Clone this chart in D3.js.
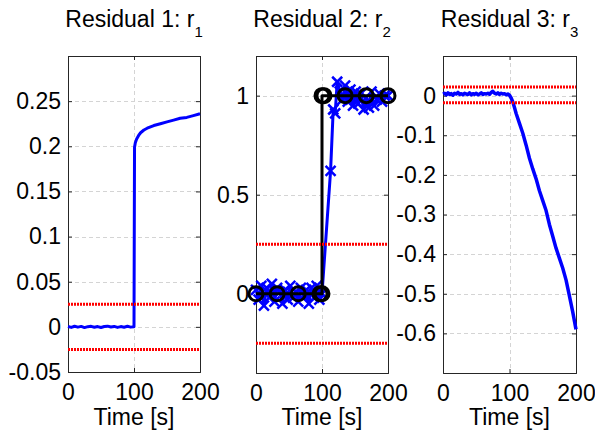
<!DOCTYPE html>
<html><head><meta charset="utf-8">
<script src="https://cdn.jsdelivr.net/npm/d3@7"></script>
<style>
html,body{margin:0;padding:0;background:#fff;}
svg{display:block;font-family:"Liberation Sans",Arial,Helvetica,sans-serif;}
</style></head><body>
<svg id="fig" width="595" height="433"></svg>
<script>
// ---- Residual 1 ----
const r1Time = [0,5,10,15,20,25,30,35,40,45,50,55,60,65,70,75,80,85,90,95,
  100,100.8,102,104,107,110,115,120,130,140,150,160,170,180,190,200];
const r1Value = [0.0004,-0.0006,0.0007,-0.0003,0.0005,-0.0008,0.0002,0.0006,-0.0005,0.0003,
  -0.0007,0.0004,0.0008,-0.0002,0.0005,-0.0006,0.0003,-0.0004,0.0006,-0.0003,
  0.0000,0.199,0.204,0.208,0.212,0.215,0.218,0.220,0.223,0.225,0.227,0.229,0.231,0.232,0.234,0.236];
const r1Thresholds = [0.025, -0.025];
const r1YDomain = [-0.05, 0.3];
const r1YTicks = [-0.05, 0, 0.05, 0.1, 0.15, 0.2, 0.25];

// ---- Residual 2 ----
const r2Time = [0,4,8,12,16,20,24,28,32,36,40,44,48,52,56,60,64,68,72,76,80,84,88,92,96,100,
  113,117,120,123,127,131,135,139,143,147,151,155,159,163,167,171,175,179,183,187,191,195,200];
const r2Value = [0.02,-0.03,0.04,-0.06,0.03,-0.02,0.05,-0.04,0.03,0.01,
  -0.05,0.02,-0.03,0.04,-0.02,0.01,-0.04,0.03,-0.01,0.02,
  -0.05,0.03,-0.02,0.04,-0.03,0.00,
  0.62,0.93,0.91,1.07,1.02,0.98,1.05,0.97,1.03,0.95,
  1.02,0.96,1.01,0.93,0.99,0.94,1.02,0.95,0.98,1.01,0.97,1.00,1.00];
const r2RefTime = [0,32,64,97,100,100,103,135,167,200];
const r2RefValue = [0,0,0,0,0,1,1,1,1,1];
const r2Thresholds = [0.25, -0.25];
const r2YDomain = [-0.4, 1.2];
const r2YTicks = [0, 0.5, 1];

// ---- Residual 3 ----
const r3Time = [0,2.5,5,7.5,10,12.5,15,17.5,20,22.5,25,27.5,30,32.5,35,37.5,40,42.5,45,47.5,
  50,52.5,55,57.5,60,62.5,65,67.5,70,72.5,75,77.5,80,82.5,85,87.5,90,92.5,95,97.5,100,
  102.5,105,107.5,110,115,120,125,130,135,140,145,150,155,160,165,170,175,180,185,190,195,200];
const r3Value = [0.004,0.006,0.002,0.007,0.003,0.005,0.001,0.006,0.004,0.008,
  0.003,0.005,0.002,0.006,0.004,0.003,0.007,0.002,0.005,0.003,
  0.006,0.002,0.004,0.007,0.003,0.005,0.004,0.006,0.003,0.008,
  0.011,0.006,0.004,0.007,0.003,0.006,0.004,0.005,0.002,0.004,0.001,
  -0.006,-0.016,-0.030,-0.045,-0.070,-0.095,-0.125,-0.158,-0.185,-0.210,-0.240,-0.265,
  -0.290,-0.325,-0.355,-0.385,-0.410,-0.435,-0.465,-0.505,-0.545,-0.590];
const r3Thresholds = [0.022, -0.018];
const r3YDomain = [-0.7, 0.1];
const r3YTicks = [-0.6, -0.5, -0.4, -0.3, -0.2, -0.1, 0];

// ---- shared ----
const timeDomain = [0, 200];
const timeTicks = [0, 100, 200];
const titles = ["Residual 1: r", "Residual 2: r", "Residual 3: r"];
const titleSubs = ["1", "2", "3"];
const xLabel = "Time [s]";

const svg = d3.select("#fig");
const FS = 23;

function panel(box, idx, yDomain, yTicks) {
  const x = d3.scaleLinear().domain(timeDomain).range([box.l, box.r]);
  const y = d3.scaleLinear().domain(yDomain).range([box.b, box.t]);
  const g = svg.append("g");

  // dashed grid
  const grid = g.append("g").attr("stroke", "#d4d4d4").attr("stroke-width", 1)
    .attr("stroke-dasharray", "4,3").attr("shape-rendering", "crispEdges");
  grid.selectAll("line.h").data(yTicks).join("line")
    .attr("x1", box.l).attr("x2", box.r)
    .attr("y1", d => Math.round(y(d)) + 0.5).attr("y2", d => Math.round(y(d)) + 0.5);
  grid.selectAll("line.v").data(timeTicks).join("line")
    .attr("y1", box.t).attr("y2", box.b)
    .attr("x1", d => Math.round(x(d)) + 0.5).attr("x2", d => Math.round(x(d)) + 0.5);

  // axes with inward ticks on all four sides
  const fmt = d => String(+d.toFixed(3));
  const left = d3.axisLeft(y).tickValues(yTicks).tickSize(-4).tickPadding(7).tickFormat(fmt);
  const right = d3.axisRight(y).tickValues(yTicks).tickSize(-4).tickFormat("");
  const bottom = d3.axisBottom(x).tickValues(timeTicks).tickSize(-4).tickPadding(12).tickFormat(d3.format("d"));
  const top = d3.axisTop(x).tickValues(timeTicks).tickSize(-4).tickFormat("");
  const style = a => {
    a.selectAll("path,line").attr("stroke", "#262626");
    a.selectAll("text").attr("fill", "#000").attr("font-size", FS)
      .attr("font-family", '"Liberation Sans",Arial,sans-serif');
  };
  g.append("g").attr("transform", `translate(${box.l},0)`).call(left).call(style);
  g.append("g").attr("transform", `translate(${box.r},0)`).call(right).call(style);
  g.append("g").attr("transform", `translate(0,${box.b})`).call(bottom).call(style);
  g.append("g").attr("transform", `translate(0,${box.t})`).call(top).call(style);
  g.selectAll(".domain").attr("stroke-width", 1);

  // title with subscript
  const t = g.append("text").attr("x", (box.l + box.r) / 2).attr("y", 27)
    .attr("text-anchor", "middle").attr("font-size", FS).text(titles[idx]);
  t.append("tspan").attr("dy", 10).attr("font-size", 15).text(titleSubs[idx]);

  // x label
  g.append("text").attr("x", (box.l + box.r) / 2).attr("y", 425)
    .attr("text-anchor", "middle").attr("font-size", FS).text(xLabel);

  return {g, x, y};
}

function thresholds(p, vals, box) {
  p.g.append("g").selectAll("line").data(vals).join("line")
    .attr("x1", box.l).attr("x2", box.r)
    .attr("y1", d => p.y(d)).attr("y2", d => p.y(d))
    .attr("stroke", "#ff0000").attr("stroke-width", 3).attr("stroke-dasharray", "2,1");
}

function series(p, tArr, vArr, color, w) {
  const pts = tArr.map((t, i) => [t, vArr[i]]);
  p.g.append("path").datum(pts)
    .attr("d", d3.line().x(d => p.x(d[0])).y(d => p.y(d[1])))
    .attr("fill", "none").attr("stroke", color).attr("stroke-width", w)
    .attr("stroke-linejoin", "round");
  return pts;
}

// panel 1
const b1 = {l: 68, r: 200, t: 56, b: 372};
const p1 = panel(b1, 0, r1YDomain, r1YTicks);
series(p1, r1Time, r1Value, "#0000ff", 3);
thresholds(p1, r1Thresholds, b1);

// panel 2
const b2 = {l: 256, r: 388, t: 56, b: 373};
const p2 = panel(b2, 1, r2YDomain, r2YTicks);
const bluePts = series(p2, r2Time, r2Value, "#0000ff", 3);
p2.g.append("g").selectAll("path").data(bluePts).join("path")
  .attr("d", d => {
    const cx = p2.x(d[0]), cy = p2.y(d[1]), s = 5;
    return `M${cx - s},${cy - s}L${cx + s},${cy + s}M${cx - s},${cy + s}L${cx + s},${cy - s}`;
  })
  .attr("stroke", "#0000ff").attr("stroke-width", 2.5).attr("fill", "none");
const refPts = series(p2, r2RefTime, r2RefValue, "#000000", 3);
p2.g.append("g").selectAll("circle").data(refPts).join("circle")
  .attr("cx", d => p2.x(d[0])).attr("cy", d => p2.y(d[1])).attr("r", 7)
  .attr("fill", "none").attr("stroke", "#000").attr("stroke-width", 3);
thresholds(p2, r2Thresholds, b2);

// panel 3
const b3 = {l: 443, r: 576, t: 56, b: 373};
const p3 = panel(b3, 2, r3YDomain, r3YTicks);
series(p3, r3Time, r3Value, "#0000ff", 3.5);
thresholds(p3, r3Thresholds, b3);
</script>
</body></html>
